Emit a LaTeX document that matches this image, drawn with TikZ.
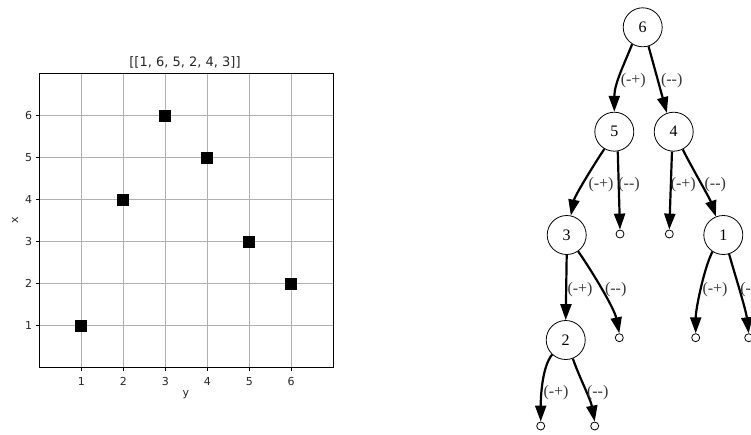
\documentclass[tikz,border=0pt]{standalone}
\usepackage{fontspec}
\usetikzlibrary{arrows.meta}
\newfontfamily\plotfont{DejaVu Sans}
\newfontfamily\gvfont{Liberation Serif}
\newcommand\mmx{-\kern0pt-}
\begin{document}
\begin{tikzpicture}[x=1pt,y=-1pt,
  gridline/.style={draw=black!31, line width=0.8pt},
  frame/.style={draw=black, line width=0.8pt},
  marker/.style={rectangle, fill=black, minimum size=12pt, inner sep=0pt},
  ticklab/.style={font=\plotfont\fontsize{11}{13}\selectfont, inner sep=0pt, text=black!85},
  tnode/.style={circle, draw, line width=0.8pt, minimum size=39pt, inner sep=0pt, font=\gvfont\fontsize{16}{18}\selectfont},
  leaf/.style={circle, draw, line width=0.8pt, minimum size=8pt, inner sep=0pt},
  edge/.style={line width=2.2pt, -{Triangle[length=16pt,width=11pt]}},
  elabel/.style={font=\gvfont\fontsize{16}{18}\selectfont, inner sep=0pt, text=black!80}
]
\useasboundingbox (0,0) rectangle (751,434);

% ---------- plot ----------
\begin{scope}[shift={(39.3,367.7)}, x=41.99pt, y=42.03pt]
  \foreach \i in {1,...,6} {
    \draw[gridline] (\i,0) -- (\i,7);
    \draw[gridline] (0,\i) -- (7,\i);
    \draw[line width=0.8pt] (\i,0) -- ++(0,-3.5pt);
    \draw[line width=0.8pt] (0,\i) -- ++(-3.5pt,0);
    \node[ticklab, anchor=base] (xt\i) at ([yshift=-17.3pt]\i,0) {\i};
    \node[ticklab, anchor=east] (yt\i) at ([xshift=-7pt]0,\i) {\i};
  }
  \draw[frame] (0,0) rectangle (7,7);
  \node[marker] (p1) at (1,1) {};
  \node[marker] (p2) at (2,4) {};
  \node[marker] (p3) at (3,6) {};
  \node[marker] (p4) at (4,5) {};
  \node[marker] (p5) at (5,3) {};
  \node[marker] (p6) at (6,2) {};
\end{scope}
\node[ticklab] (title) at (185,62.7) {\fontsize{13}{15}\selectfont [[1, 6, 5, 2, 4, 3]]};
\node[ticklab] (ylab) at (186,395) {y};
\node[ticklab, rotate=90] (xlab) at (15,220.7) {x};

% ---------- tree ----------
\node[tnode] (n6) at (642.7,27.3) {6};
\node[tnode] (n5) at (614.3,131.7) {5};
\node[tnode] (n4) at (673.7,131.7) {4};
\node[tnode] (n3) at (566.7,235) {3};
\node[tnode] (n1) at (723.3,235) {1};
\node[tnode] (n2) at (565.7,340) {2};
\node[leaf] (l5) at (620,234) {};
\node[leaf] (l4) at (669.3,234) {};
\node[leaf] (l3) at (619.3,337.7) {};
\node[leaf] (l1a) at (695.7,337.7) {};
\node[leaf] (l1b) at (748.7,337.7) {};
\node[leaf] (l2a) at (540.7,426) {};
\node[leaf] (l2b) at (594.7,426) {};

\draw[edge] (n6.238) .. controls +(-8,20) and +(0,-28) .. (n5.north);
\draw[edge] (n6.287) .. controls +(5,18) and +(-5,-18) .. (n4.110);
\draw[edge] (n5.240) .. controls +(-10,15) and +(4,-20) .. (n3.78);
\draw[edge] (n5.280) -- (l5.north);
\draw[edge] (n4.265) -- (l4.north);
\draw[edge] (n4.297) .. controls +(8,16) and +(-6,-18) .. (n1.112);
\draw[edge] (n3.south) -- (n2.north);
\draw[edge] (n3.305) .. controls +(14,20) and +(-5,-25) .. (l3.north);
\draw[edge] (n1.237) .. controls +(-8,15) and +(0,-25) .. (l1a.north);
\draw[edge] (n1.287) .. controls +(4,15) and +(-3,-25) .. (l1b.north);
\draw[edge] (n2.227) .. controls +(-10,12) and +(0,-25) .. (l2a.north);
\draw[edge] (n2.291) .. controls +(5,15) and +(-4,-22) .. (l2b.north);

\node[elabel] (e65) at (633.3,81) {(-+)};
\node[elabel] (e64) at (671.7,81) {(\mmx)};
\node[elabel] (e53) at (601,184.3) {(-+)};
\node[elabel] (e5l) at (629,184.3) {(\mmx)};
\node[elabel] (e4l) at (683.3,184.3) {(-+)};
\node[elabel] (e41) at (715.3,184.3) {(\mmx)};
\node[elabel] (e32) at (580,289.3) {(-+)};
\node[elabel] (e3l) at (615.7,289.3) {(\mmx)};
\node[elabel] (e1a) at (715,289.3) {(-+)};
\node[elabel] (e1b) at (751,289.3) {(\mmx)};
\node[elabel] (e2a) at (556,392.7) {(-+)};
\node[elabel] (e2b) at (597.7,392.7) {(\mmx)};
\end{tikzpicture}
\end{document}
